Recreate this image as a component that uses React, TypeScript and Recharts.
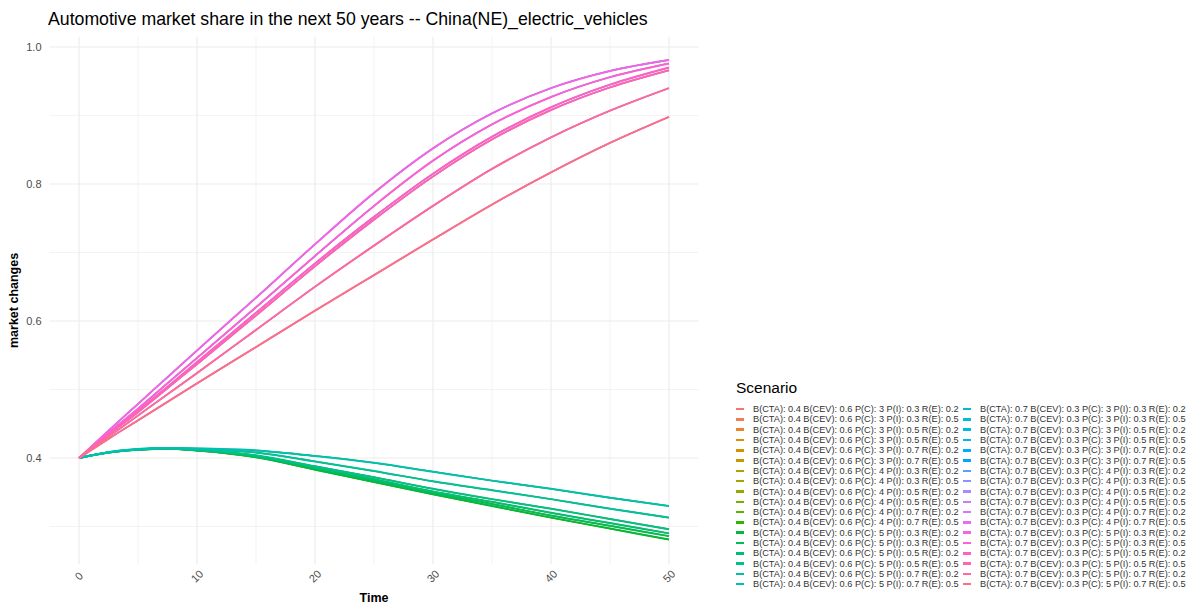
import { LineChart, Line, XAxis, YAxis, CartesianGrid } from 'recharts';

// sample years
const TIME = [0, 2.5, 5, 7.5, 10, 15, 20, 25, 30, 35, 40, 45, 50];

// B(CTA) 0.7 / B(CEV) 0.3 curves, one per (P(I), R(E)) pair, top to bottom
const UPPER_CURVES = [
  [0.4, 0.44, 0.479, 0.518, 0.557, 0.634, 0.712, 0.787, 0.852, 0.903, 0.94, 0.965, 0.981],
  [0.4, 0.437, 0.472, 0.509, 0.546, 0.62, 0.695, 0.768, 0.834, 0.887, 0.927, 0.956, 0.976],
  [0.4, 0.435, 0.469, 0.504, 0.54, 0.612, 0.684, 0.752, 0.815, 0.869, 0.912, 0.945, 0.97],
  [0.4, 0.434, 0.467, 0.502, 0.537, 0.608, 0.68, 0.748, 0.811, 0.865, 0.908, 0.941, 0.966],
  [0.4, 0.431, 0.462, 0.493, 0.524, 0.587, 0.65, 0.71, 0.768, 0.822, 0.868, 0.907, 0.94],
  [0.4, 0.428, 0.455, 0.482, 0.509, 0.562, 0.615, 0.667, 0.719, 0.77, 0.817, 0.86, 0.898],
];

// B(CTA) 0.4 / B(CEV) 0.6 curves, same pair order (bottom to top)
const LOWER_CURVES = [
  [0.4, 0.408, 0.412, 0.4135, 0.411, 0.401, 0.383, 0.365, 0.347, 0.33, 0.313, 0.297, 0.281],
  [0.4, 0.408, 0.412, 0.4135, 0.411, 0.402, 0.385, 0.367, 0.349, 0.333, 0.316, 0.301, 0.286],
  [0.4, 0.408, 0.4125, 0.414, 0.412, 0.403, 0.386, 0.369, 0.351, 0.336, 0.32, 0.305, 0.29],
  [0.4, 0.408, 0.4125, 0.414, 0.412, 0.404, 0.388, 0.372, 0.355, 0.34, 0.326, 0.311, 0.296],
  [0.4, 0.4085, 0.413, 0.4145, 0.413, 0.408, 0.395, 0.381, 0.366, 0.353, 0.34, 0.326, 0.313],
  [0.4, 0.4085, 0.413, 0.4148, 0.414, 0.411, 0.403, 0.393, 0.38, 0.367, 0.355, 0.342, 0.33],
];

const B_PAIRS = [[0.4, 0.6], [0.7, 0.3]];
const P_C = [3, 4, 5];
const P_I = [0.3, 0.5, 0.7];
const R_E = [0.2, 0.5];

const X_TICKS = [0, 10, 20, 30, 40, 50];
const X_MINOR = [5, 15, 25, 35, 45];
const Y_TICKS = [0.4, 0.6, 0.8, 1.0];
const Y_MINOR = [0.3, 0.5, 0.7, 0.9];

// ggplot2 hue palette (HCL, l=65, c=100)
function hcl(h: number, c = 100, l = 65) {
  const hr = (h * Math.PI) / 180;
  const U = c * Math.cos(hr);
  const V = c * Math.sin(hr);
  const Xn = 95.047, Yn = 100, Zn = 108.883;
  const den = Xn + 15 * Yn + 3 * Zn;
  const un = (4 * Xn) / den, vn = (9 * Yn) / den;
  const Y = Yn * Math.pow((l + 16) / 116, 3);
  const up = U / (13 * l) + un;
  const vp = V / (13 * l) + vn;
  const X = (9 * Y * up) / (4 * vp);
  const Z = (Y * (12 - 3 * up - 20 * vp)) / (4 * vp);
  const x = X / 100, y = Y / 100, z = Z / 100;
  const lin = [
    3.240479 * x - 1.53715 * y - 0.498535 * z,
    -0.969256 * x + 1.875992 * y + 0.041556 * z,
    0.055648 * x - 0.204043 * y + 1.057311 * z,
  ];
  return (
    '#' +
    lin
      .map((v) => {
        const g = v <= 0.0031308 ? 12.92 * v : 1.055 * Math.pow(v, 1 / 2.4) - 0.055;
        const n = Math.round(Math.min(1, Math.max(0, g)) * 255);
        return n.toString(16).padStart(2, '0');
      })
      .join('')
  );
}

interface Scenario {
  key: string;
  label: string;
  color: string;
  curve: number[];
  covered: boolean;
}

const scenarios: Scenario[] = [];
B_PAIRS.forEach(([cta, cev], b) => {
  P_C.forEach((pc) => {
    P_I.forEach((pi, i) => {
      R_E.forEach((re, r) => {
        const idx = scenarios.length;
        const k = i * 2 + r;
        scenarios.push({
          key: `s${idx}`,
          label: `B(CTA): ${cta.toFixed(1)} B(CEV): ${cev.toFixed(1)} P(C): ${pc} P(I): ${pi.toFixed(1)} R(E): ${re.toFixed(1)}`,
          color: hcl(15 + idx * 10),
          curve: b === 0 ? LOWER_CURVES[k] : UPPER_CURVES[k],
          // P(C) 3 and 4 lie right under the P(C) 5 line
          covered: pc !== P_C[P_C.length - 1],
        });
      });
    });
  });
});

const data = TIME.map((t, ti) => {
  const row: Record<string, number> = { time: t };
  scenarios.forEach((s) => (row[s.key] = s.curve[ti]));
  return row;
});

const FONT = '"Liberation Sans", Arial, sans-serif';

const XTick = (props: any) => {
  const { x, y, payload } = props;
  const cy = y + 4;
  return (
    <text
      x={x}
      y={cy}
      dy="0.35em"
      textAnchor="middle"
      fill="#4D4D4D"
      fontSize={11}
      fontFamily={FONT}
      transform={`rotate(-45, ${x}, ${cy})`}
    >
      {payload.value}
    </text>
  );
};

export default function App() {
  const half = scenarios.length / 2;
  const cols = [scenarios.slice(0, half), scenarios.slice(half)];
  return (
    <div style={{ position: 'absolute', left: 0, top: 0, width: 1191, height: 605, background: '#fff', fontFamily: FONT }}>
      <div style={{ position: 'absolute', left: 48, top: 9, fontSize: 17.7, lineHeight: '20px', color: '#000', whiteSpace: 'nowrap' }}>
        Automotive market share in the next 50 years -- China(NE)_electric_vehicles
      </div>
      <LineChart width={1191} height={605} data={data} margin={{ top: 36.7, right: 492.5, bottom: 0, left: 9.5 }}>
        <CartesianGrid stroke="#EBEBEB" strokeWidth={0.6} horizontalValues={Y_MINOR} verticalValues={X_MINOR} />
        <CartesianGrid stroke="#EBEBEB" strokeWidth={1.1} horizontalValues={Y_TICKS} verticalValues={X_TICKS} />
        <XAxis
          dataKey="time"
          type="number"
          domain={[-2.5, 52.5]}
          ticks={X_TICKS}
          axisLine={false}
          tickLine={false}
          height={40.8}
          tick={<XTick />}
          label={({ viewBox }: any) => (
            <text
              x={viewBox.x + viewBox.width / 2}
              y={viewBox.y + viewBox.height - 3}
              textAnchor="middle"
              fontSize={12.5}
              fontWeight="bold"
              fontFamily={FONT}
              fill="#000"
            >
              Time
            </text>
          )}
        />
        <YAxis
          type="number"
          domain={[0.245, 1.015]}
          ticks={Y_TICKS}
          allowDataOverflow
          width={40}
          axisLine={false}
          tickLine={false}
          tick={{ fill: '#4D4D4D', fontSize: 11, fontFamily: FONT }}
          tickFormatter={(v: number) => v.toFixed(1)}
          label={({ viewBox }: any) => {
            const cx = 18;
            const cy = viewBox.y + viewBox.height / 2;
            return (
              <text
                x={cx}
                y={cy}
                textAnchor="middle"
                fontSize={12.5}
                fontWeight="bold"
                fontFamily={FONT}
                fill="#000"
                transform={`rotate(-90, ${cx}, ${cy})`}
              >
                market changes
              </text>
            );
          }}
        />
        {scenarios.map((s) => (
          <Line
            key={s.key}
            dataKey={s.key}
            type="monotone"
            stroke={s.color}
            strokeWidth={s.covered ? 1.3 : 2}
            dot={false}
            activeDot={false}
            isAnimationActive={false}
          />
        ))}
      </LineChart>
      <div style={{ position: 'absolute', left: 736, top: 378, fontSize: 15.5, lineHeight: '19px', color: '#000' }}>Scenario</div>
      {cols.map((col, ci) => (
        <div key={ci} style={{ position: 'absolute', left: ci === 0 ? 736 : 963, top: 404 }}>
          {col.map((s) => (
            <div key={s.key} style={{ display: 'flex', alignItems: 'center', height: 10.3, whiteSpace: 'nowrap' }}>
              <span style={{ display: 'inline-block', width: 8, height: 2.5, background: s.color, marginRight: 9 }} />
              <span style={{ fontSize: 9.2, color: '#333', lineHeight: '10px' }}>{s.label}</span>
            </div>
          ))}
        </div>
      ))}
    </div>
  );
}
